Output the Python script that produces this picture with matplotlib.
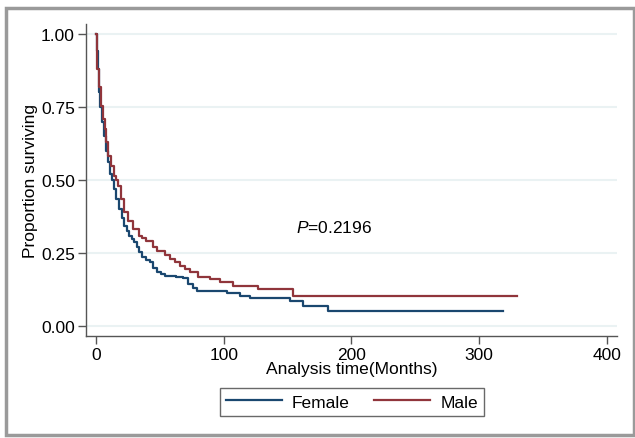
import matplotlib
matplotlib.use("Agg")
import matplotlib.pyplot as plt
from matplotlib.patches import Rectangle

# ------------------------------------------------------------
# Kaplan-Meier step data (months, survival)
# ------------------------------------------------------------
female_t = [0, 0.5, 1.5, 2.5, 3.5, 5, 6.5, 8, 9.5, 11, 12.5, 14, 16, 18, 20, 22, 24,
            26, 28, 29.8, 32, 33.7, 36, 39, 42, 44.6, 47.8, 51, 54, 62.6, 68, 72,
            76, 79, 103, 113, 120.6, 152, 162, 182, 319]
female_s = [1.0, 0.94, 0.88, 0.80, 0.75, 0.70, 0.65, 0.60, 0.56, 0.52, 0.50, 0.47,
            0.435, 0.40, 0.37, 0.342, 0.325, 0.308, 0.298, 0.288, 0.27, 0.253, 0.236,
            0.225, 0.219, 0.20, 0.185, 0.178, 0.171, 0.168, 0.164, 0.144, 0.13,
            0.12, 0.113, 0.103, 0.096, 0.085, 0.070, 0.051, 0.051]

male_t = [0, 0.5, 1, 2.6, 3.9, 5.5, 7, 8, 9.4, 11.7, 14.1, 15.5, 17.2, 19.6, 21.9,
          25.1, 29, 33.7, 36, 39.2, 44.6, 47.8, 54, 57.9, 62, 65.8, 70, 73.6, 79.9,
          89.3, 97.1, 107.3, 126.9, 154.3, 330]
male_s = [1.0, 0.93, 0.88, 0.82, 0.753, 0.71, 0.675, 0.63, 0.582, 0.548, 0.514,
          0.50, 0.48, 0.435, 0.39, 0.36, 0.332, 0.308, 0.30, 0.29, 0.27, 0.257,
          0.243, 0.228, 0.22, 0.205, 0.195, 0.185, 0.168, 0.161, 0.151, 0.137,
          0.127, 0.103, 0.103]

groups = ["Female", "Male"]
colors = ["#1a476f", "#90353b"]
y_ticks = [0.0, 0.25, 0.5, 0.75, 1.0]
x_ticks = [0, 100, 200, 300, 400]
p_text = r"$\mathit{P}$=0.2196"

plt.rcParams["font.family"] = ["Liberation Sans", "DejaVu Sans"]
plt.rcParams["mathtext.fontset"] = "custom"
plt.rcParams["mathtext.it"] = "Liberation Sans:italic"
plt.rcParams["mathtext.rm"] = "Liberation Sans"

fs = 12.5

fig = plt.figure(figsize=(6.35, 4.39), dpi=100)
fig.patches.append(Rectangle((5.5 / 635, 3.5 / 439), 628 / 635, 427 / 439,
                             transform=fig.transFigure, fill=False,
                             edgecolor="#9a9a9a", linewidth=2.5))

ax = fig.add_axes([86 / 635, 1 - 337 / 439, 531 / 635, 312 / 439])

for t, s, name, col in zip([female_t, male_t], [female_s, male_s], groups, colors):
    ax.step(t, s, where="post", color=col, lw=1.6, label=name)

ax.set_xlim(-7.8, 408)
ax.set_ylim(-0.034, 1.034)
ax.set_yticks(y_ticks)
ax.set_yticklabels([f"{v:.2f}" for v in y_ticks])
ax.set_xticks(x_ticks)
ax.grid(axis="y", color="#eaf2f3", linewidth=1.5)
ax.set_axisbelow(True)

for side in ["top", "right"]:
    ax.spines[side].set_visible(False)
for side in ["left", "bottom"]:
    ax.spines[side].set_color("#555555")
    ax.spines[side].set_linewidth(1.0)
ax.tick_params(axis="both", direction="out", length=6, width=1.0,
               color="#555555", labelsize=fs, labelcolor="black", pad=2)

ax.set_xlabel("Analysis time(Months)", fontsize=fs, labelpad=-1)
ax.set_ylabel("Proportion surviving", fontsize=fs, labelpad=2)

ax.text(156.6, 0.339, p_text, fontsize=fs, ha="left", va="center")

leg = fig.legend(loc="center", bbox_to_anchor=(352 / 635, 1 - 403 / 439), ncol=2,
                 fontsize=fs, frameon=True, fancybox=False, handlelength=3.2,
                 handletextpad=0.6, columnspacing=1.4, borderpad=0.35)
leg.get_frame().set_edgecolor("#444444")
leg.get_frame().set_linewidth(1.0)

fig.savefig("out.png", dpi=100)
